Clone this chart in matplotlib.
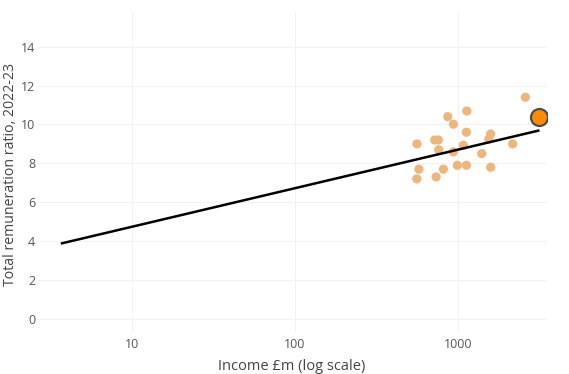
import matplotlib
matplotlib.use("Agg")
import matplotlib.pyplot as plt
import numpy as np

income = [2600, 868, 1136, 940, 1129, 1591, 1550, 2173, 562, 722, 760, 764,
          1082, 940, 1403, 577, 816, 994, 1130, 1592, 560, 736]
ratio = [11.40, 10.40, 10.69, 10.01, 9.60, 9.51, 9.24, 9.00, 9.00, 9.20, 9.20, 8.70,
         8.93, 8.59, 8.50, 7.70, 7.70, 7.90, 7.90, 7.80, 7.20, 7.30]
highlight_income = [3155]
highlight_ratio = [10.40]
fit_income = [3.72, 3120]
fit_ratio = [3.89, 9.68]
y_ticks = [0, 2, 4, 6, 8, 10, 12, 14]
x_ticks = [10, 100, 1000]
x_ticklabels = ["10", "100", "1000"]

plt.rcParams['font.family'] = ['Open Sans', 'DejaVu Sans']

W, H = 569, 374
fig = plt.figure(figsize=(W / 100, H / 100), dpi=100)
ax = fig.add_axes([38 / W, (H - 332) / H, (547 - 38) / W, (332 - 12) / H])

ax.set_xscale('log')
ax.set_xlim(2.65, 3530)
ax.set_ylim(-0.67, 15.78)

ax.grid(True, which='major', color='#f2f2f2', linewidth=0.8)
ax.set_axisbelow(True)
for s in ax.spines.values():
    s.set_visible(False)

ax.scatter(income, ratio, s=44, color='#ecb67c', edgecolors='none', zorder=2)
ax.plot(fit_income, fit_ratio, color='black', linewidth=1.8, zorder=3)
ax.scatter(highlight_income, highlight_ratio, s=150, color='#ff8c00',
           edgecolors='#4d4d4d', linewidths=1.6, zorder=4)

ax.set_yticks(y_ticks)
ax.set_yticklabels([str(v) for v in y_ticks])
ax.set_xticks(x_ticks)
ax.set_xticklabels(x_ticklabels)
ax.minorticks_off()
ax.tick_params(axis='both', length=0, labelsize=9, labelcolor='#555555')
ax.tick_params(axis='y', pad=2)
ax.tick_params(axis='x', pad=4)

fig.text(292 / W, 1 - 366 / H, 'Income £m (log scale)', fontsize=10.5,
         color='#444444', ha='center', va='center')
fig.text(11 / W, 1 - 174 / H, 'Total remuneration ratio, 2022-23', fontsize=10.2,
         color='#444444', ha='center', va='center', rotation=90)

fig.savefig('out.png', dpi=100)
